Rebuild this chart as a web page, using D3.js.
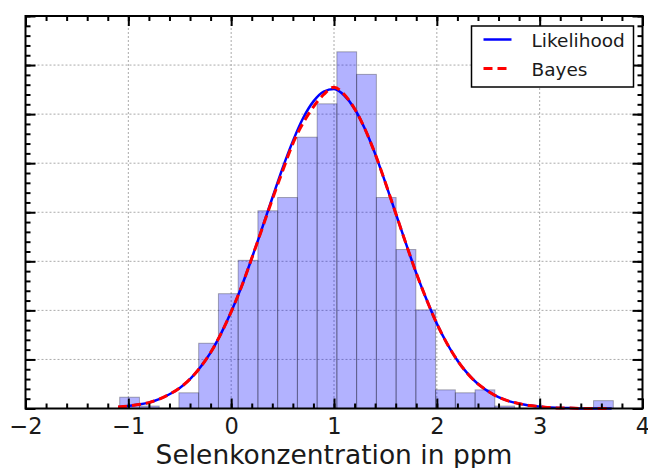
<!DOCTYPE html>
<html>
<head>
<meta charset="utf-8">
<script src="https://cdn.jsdelivr.net/npm/d3@7"></script>
<style>
  body { margin: 0; background: #fff; }
  text { font-family: "DejaVu Sans", sans-serif; fill: #1a1a1a; }
</style>
</head>
<body>
<div id="chart"></div>
<script>
// histogram (density) of the selenium values
var binEdges = [-1.084, -0.892, -0.700, -0.508, -0.316, -0.124, 0.068, 0.260, 0.452, 0.644,
                0.836, 1.028, 1.220, 1.412, 1.604, 1.796, 1.988, 2.180, 2.372, 2.564,
                2.756, 2.948, 3.140, 3.332, 3.524, 3.716];
var binDensity = [0.023, 0.005, 0, 0.032, 0.133, 0.234, 0.302, 0.403, 0.430, 0.553,
                  0.621, 0.727, 0.681, 0.430, 0.324, 0.201, 0.038, 0.032, 0.038, 0.005,
                  0, 0, 0, 0, 0.016];

var curveX = [-1.1, -1.0, -0.9, -0.8, -0.7, -0.6, -0.5, -0.4, -0.3, -0.2, -0.1, 0.0,
              0.1, 0.2, 0.3, 0.4, 0.5, 0.6, 0.7, 0.8, 0.9, 1.0, 1.1, 1.2, 1.3, 1.4,
              1.5, 1.6, 1.7, 1.8, 1.9, 2.0, 2.1, 2.2, 2.3, 2.4, 2.5, 2.6, 2.7, 2.8,
              2.9, 3.0, 3.1, 3.2, 3.3, 3.4, 3.5, 3.6, 3.7];
var likelihood = [0.003, 0.005, 0.008, 0.012, 0.019, 0.029, 0.042, 0.060, 0.084, 0.114, 0.152, 0.197,
                  0.248, 0.306, 0.367, 0.429, 0.490, 0.545, 0.592, 0.626, 0.646, 0.651, 0.638, 0.611, 0.570, 0.519,
                  0.460, 0.398, 0.336, 0.276, 0.222, 0.173, 0.132, 0.098, 0.071, 0.050, 0.035, 0.023, 0.015, 0.010,
                  0.006, 0.004, 0.002, 0.001, 0.001, 0, 0, 0, 0];
var bayes = [0.003, 0.005, 0.008, 0.012, 0.019, 0.029, 0.042, 0.060, 0.084, 0.114, 0.152, 0.197,
             0.248, 0.306, 0.366, 0.426, 0.484, 0.540, 0.582, 0.615, 0.640, 0.655, 0.640, 0.611, 0.570, 0.519,
             0.460, 0.398, 0.336, 0.276, 0.222, 0.173, 0.132, 0.098, 0.071, 0.050, 0.035, 0.023, 0.015, 0.010,
             0.006, 0.004, 0.002, 0.001, 0.001, 0, 0, 0, 0];

var xTicks = [-2, -1, 0, 1, 2, 3, 4];
var xLabel = "Selenkonzentration in ppm";
var legendNames = ["Likelihood", "Bayes"];

var margin = {top: 16, right: 5.5, bottom: 59.5, left: 25.5},
    width = 648 - margin.left - margin.right,
    height = 468 - margin.top - margin.bottom;

var svg = d3.select("#chart")
  .append("svg")
    .attr("width", 648)
    .attr("height", 468)
  .append("g")
    .attr("transform", "translate(" + margin.left + "," + margin.top + ")");

var x = d3.scaleLinear().domain([-2, 4]).range([0, width]);
var y = d3.scaleLinear().domain([0, 0.8]).range([height, 0]);

// dotted grid
svg.append("g")
  .selectAll("line")
  .data(xTicks.slice(1, -1))
  .enter().append("line")
    .attr("x1", function(d) { return x(d); })
    .attr("x2", function(d) { return x(d); })
    .attr("y1", 0).attr("y2", height)
    .attr("stroke", "#aaa").attr("stroke-width", 1).attr("stroke-dasharray", "2,2");
svg.append("g")
  .selectAll("line")
  .data(y.ticks(8).slice(1, -1))
  .enter().append("line")
    .attr("y1", function(d) { return y(d); })
    .attr("y2", function(d) { return y(d); })
    .attr("x1", 0).attr("x2", width)
    .attr("stroke", "#aaa").attr("stroke-width", 1).attr("stroke-dasharray", "2,2");

// bars
var bins = binDensity.map(function(v, i) { return {x0: binEdges[i], x1: binEdges[i + 1], v: v}; })
  .filter(function(d) { return d.v > 0; });
svg.append("g")
  .selectAll("rect")
  .data(bins)
  .enter().append("rect")
    .attr("x", function(d) { return x(d.x0); })
    .attr("width", function(d) { return x(d.x1) - x(d.x0); })
    .attr("y", function(d) { return y(d.v); })
    .attr("height", function(d) { return y(0) - y(d.v); })
    .attr("fill", "#0000ff").attr("fill-opacity", 0.3)
    .attr("stroke", "#000").attr("stroke-opacity", 0.3).attr("stroke-width", 1);

// curves
var line = d3.line()
  .x(function(d) { return x(d[0]); })
  .y(function(d) { return y(d[1]); })
  .curve(d3.curveMonotoneX);

svg.append("path")
  .datum(curveX.map(function(v, i) { return [v, likelihood[i]]; }))
  .attr("d", line)
  .attr("fill", "none").attr("stroke", "#0000ff").attr("stroke-width", 2.5);

svg.append("path")
  .datum(curveX.map(function(v, i) { return [v, bayes[i]]; }))
  .attr("d", line)
  .attr("fill", "none").attr("stroke", "#ff0000").attr("stroke-width", 3)
  .attr("stroke-dasharray", "9,5");

// axes, ticks pointing inwards on all sides
function ticksOn(axis, scale, minor, transform) {
  svg.append("g")
    .attr("transform", transform)
    .call(axis(scale).tickValues(minor).tickSize(-5).tickFormat(""))
    .call(function(g) { g.select(".domain").remove(); g.selectAll("line").attr("stroke-width", 2); });
}
var xMinor = d3.range(-2, 4.001, 0.2);
var yMinor = d3.range(0, 0.801, 0.02);
ticksOn(d3.axisBottom, x, xMinor, "translate(0," + height + ")");
ticksOn(d3.axisTop, x, xMinor, "translate(0,0)");
ticksOn(d3.axisLeft, y, yMinor, "translate(0,0)");
ticksOn(d3.axisRight, y, yMinor, "translate(" + width + ",0)");

svg.append("g")
  .attr("transform", "translate(0," + height + ")")
  .call(d3.axisBottom(x).tickValues(xTicks).tickSize(-10).tickPadding(10)
    .tickFormat(function(d) { return d < 0 ? "\u2212" + Math.abs(d) : d; }))
  .call(function(g) {
    g.select(".domain").remove();
    g.selectAll("line").attr("stroke-width", 2);
    g.selectAll("text").attr("font-size", 22.5).attr("font-family", "DejaVu Sans").attr("fill", "#1a1a1a");
  });
svg.append("g")
  .call(d3.axisTop(x).tickValues(xTicks).tickSize(-10).tickFormat(""))
  .call(function(g) { g.select(".domain").remove(); g.selectAll("line").attr("stroke-width", 2); });
svg.append("g")
  .call(d3.axisLeft(y).ticks(8).tickSize(-10).tickFormat(""))
  .call(function(g) { g.select(".domain").remove(); g.selectAll("line").attr("stroke-width", 2); });
svg.append("g")
  .attr("transform", "translate(" + width + ",0)")
  .call(d3.axisRight(y).ticks(8).tickSize(-10).tickFormat(""))
  .call(function(g) { g.select(".domain").remove(); g.selectAll("line").attr("stroke-width", 2); });

// frame
svg.append("rect")
  .attr("width", width).attr("height", height)
  .attr("fill", "none").attr("stroke", "#000").attr("stroke-width", 2);

svg.append("text")
  .attr("x", width / 2).attr("y", height + 55)
  .attr("text-anchor", "middle")
  .attr("font-size", 26.5)
  .text(xLabel);

// legend
var legend = svg.append("g").attr("transform", "translate(" + (width - 171) + ",10)");
legend.append("rect")
  .attr("width", 162).attr("height", 61)
  .attr("fill", "#fff").attr("stroke", "#000").attr("stroke-width", 1.5);
var legendStyle = [{c: "#0000ff", w: 2.5, dash: null}, {c: "#ff0000", w: 3, dash: "9,5"}];
legendNames.forEach(function(name, i) {
  legend.append("line")
    .attr("x1", 12).attr("x2", 40)
    .attr("y1", 13.5 + i * 29).attr("y2", 13.5 + i * 29)
    .attr("stroke", legendStyle[i].c).attr("stroke-width", legendStyle[i].w)
    .attr("stroke-dasharray", legendStyle[i].dash);
  legend.append("text")
    .attr("x", 60).attr("y", 20.5 + i * 29)
    .attr("font-size", 18.5)
    .text(name);
});
</script>
</body>
</html>
